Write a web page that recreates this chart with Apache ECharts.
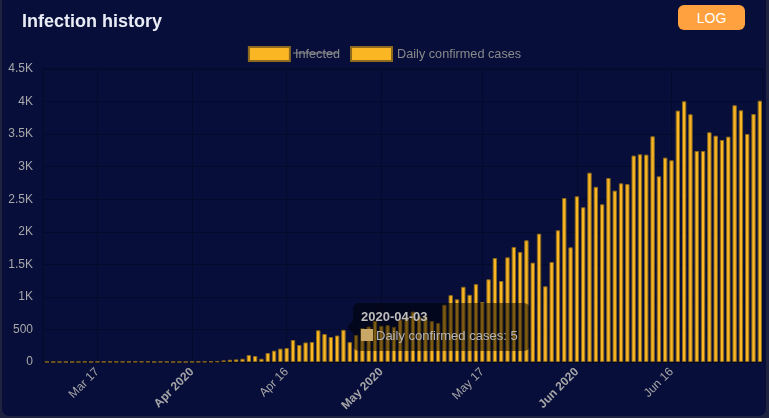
<!DOCTYPE html>
<html>
<head>
<meta charset="utf-8">
<title>Infection history</title>
<script src="https://cdn.jsdelivr.net/npm/echarts@6/dist/echarts.min.js"></script>
<style>
  html, body { margin: 0; padding: 0; width: 769px; height: 418px; overflow: hidden; background: #1e2440; }
  #card { position: absolute; left: 2px; top: -10px; width: 764px; height: 426px; border-radius: 7px; background: #070e3a; }
  #chart { position: absolute; left: 0; top: 0; width: 769px; height: 418px; }
  #logBtn {
    position: absolute; left: 678px; top: 5px; width: 67px; height: 25px; z-index: 5;
    border: 0; border-radius: 6px; padding: 0; background: #ffa13e; color: #fff;
    font: 14px 'Liberation Sans', Arial, sans-serif;
  }
</style>
</head>
<body>
<div id="card"></div>
<div id="chart"></div>
<button id="logBtn">LOG</button>
<script>
// daily confirmed cases (Mar 9 .. Jun 30, 2020)
const marchFirstDay = 9;
const marchCases = [2, 0, 0, 0, 0, 0, 3, 0, 3, 3, 3, 3, 3, 3, 5, 5, 5, 0, 3, 3, 0, 0, 0];
const aprilCases = [2, 3, 5, 6, 10, 25, 35, 40, 50, 107, 92, 50, 138, 174, 205, 215, 338, 261, 300, 307,
    487, 430, 384, 407, 494, 305, 417, 520, 545, 632];
const mayCases = [556, 566, 540, 654, 692, 774, 705, 703, 630, 600, 880, 1027, 963, 1155, 1032, 1196, 920,
    1270, 1597, 1244, 1608, 1766, 1690, 1869, 1526, 1971, 1163, 1536, 2023, 2519, 1761];
const juneCases = [2545, 2376, 2908, 2691, 2422, 2826, 2632, 2744, 2732, 3170, 3190, 3185, 3466, 2852, 3139,
    3098, 3861, 4004, 3805, 3241, 3241, 3528, 3476, 3410, 3461, 3943, 3866, 3502, 3809, 4014];
const seriesNames = ['Infected', 'Daily confirmed cases'];
const xTickDates = ['2020-03-17', '2020-04-01', '2020-04-16', '2020-05-01', '2020-05-17', '2020-06-01', '2020-06-16'];
const xRange = ['2020-03-08T09:00', '2020-06-30T12:00'];
const yTicks = [0, 500, 1000, 1500, 2000, 2500, 3000, 3500, 4000, 4500];
const shownDate = '2020-04-03';

const FONT = "'Liberation Sans', Arial, sans-serif";
const MONTHS = ['Jan', 'Feb', 'Mar', 'Apr', 'May', 'Jun', 'Jul', 'Aug', 'Sep', 'Oct', 'Nov', 'Dec'];
const pad = n => (n < 10 ? '0' : '') + n;
const toTime = s => {
    const p = s.split(/[-T:]/).map(Number);
    return new Date(p[0], p[1] - 1, p[2], p[3] || 0, p[4] || 0).getTime();
};
const fmtDate = t => {
    const d = new Date(t);
    return d.getFullYear() + '-' + pad(d.getMonth() + 1) + '-' + pad(d.getDate());
};

// pair every value with its date
function monthData(month, firstDay, values) {
    return values.map((v, i) => [toTime('2020-' + pad(month) + '-' + pad(firstDay + i)), v]);
}
const dailyData = [].concat(
    monthData(3, marchFirstDay, marchCases),
    monthData(4, 1, aprilCases),
    monthData(5, 1, mayCases),
    monthData(6, 1, juneCases)
);
const shownIndex = dailyData.findIndex(d => d[0] === toTime(shownDate));
const xTicks = xTickDates.map(toTime);

const barStyle = { color: '#fbb624', borderColor: '#8c6a1e', borderWidth: 1 };

const myChart = echarts.init(document.getElementById('chart'));
const option = {
    animation: false,
    textStyle: { fontFamily: FONT },
    title: {
        text: 'Infection history',
        left: 17,
        top: 8,
        textStyle: { color: '#e9ebf5', fontSize: 18, fontWeight: 'bold', fontFamily: FONT }
    },
    legend: {
        data: seriesNames,
        top: 41,
        left: 'center',
        icon: 'rect',
        itemWidth: 41,
        itemHeight: 14,
        itemGap: 10,
        textStyle: { color: '#8a8a8a', fontSize: 12.7 }
    },
    tooltip: {
        trigger: 'item',
        alwaysShowContent: true,
        triggerOn: 'none',
        transitionDuration: 0,
        backgroundColor: 'rgba(0,0,0,0.5)',
        borderWidth: 0,
        padding: [5, 8],
        extraCssText: 'box-shadow:none;border-radius:6px;',
        position: function () {
            return [353, 303];
        },
        formatter: function (p) {
            return '<span style="position:absolute;left:-6px;top:50%;margin-top:-6px;width:0;height:0;' +
                'border-top:6px solid transparent;border-bottom:6px solid transparent;border-right:6px solid rgba(0,0,0,0.5)"></span>' +
                '<div style="font:bold 13px ' + FONT + ';color:#bdbdbd;line-height:18px">' + fmtDate(p.value[0]) + '</div>' +
                '<div style="font:13px ' + FONT + ';color:#b4b4b4;line-height:20px;padding-right:4px">' +
                '<span style="display:inline-block;width:12px;height:12px;margin-right:3px;vertical-align:-1px;background:#c9a867"></span>' +
                p.seriesName + ': ' + p.value[1] + '</div>';
        }
    },
    grid: {
        left: 43,
        right: 6,
        top: 69,
        bottom: 56,
        show: true,
        borderColor: '#040a2b',
        borderWidth: 1
    },
    xAxis: {
        type: 'value',
        min: toTime(xRange[0]),
        max: toTime(xRange[1]),
        axisLine: { lineStyle: { color: '#03071f' } },
        axisTick: { show: false, customValues: xTicks },
        splitLine: { show: true, lineStyle: { color: '#040a2b' } },
        axisLabel: {
            customValues: xTicks,
            color: '#a6a6a6',
            fontSize: 12,
            rotate: 45,
            formatter: function (value) {
                const d = new Date(value);
                if (d.getDate() === 1) {
                    return '{b|' + MONTHS[d.getMonth()] + ' ' + d.getFullYear() + '}';
                }
                return MONTHS[d.getMonth()] + ' ' + d.getDate();
            },
            rich: { b: { fontWeight: 'bold', color: '#a6a6a6', fontSize: 12 } }
        }
    },
    yAxis: {
        type: 'value',
        min: yTicks[0],
        max: yTicks[yTicks.length - 1],
        interval: yTicks[1] - yTicks[0],
        axisLine: { show: false },
        axisTick: { show: false },
        splitLine: { lineStyle: { color: '#040a2b' } },
        axisLabel: {
            color: '#a8a8a8',
            fontSize: 12,
            margin: 10,
            formatter: v => (v >= 1000 ? v / 1000 + 'K' : v)
        }
    },
    graphic: [
        // "Infected" is switched off in the original, shown struck through
        { type: 'line', shape: { x1: 293, y1: 53, x2: 338, y2: 53 }, style: { stroke: '#8a8a8a', lineWidth: 1 } }
    ],
    series: [
        { name: seriesNames[0], type: 'bar', stack: 'cases', data: [], itemStyle: barStyle },
        { name: seriesNames[1], type: 'bar', stack: 'cases', data: dailyData, itemStyle: barStyle }
    ]
};
myChart.setOption(option);
myChart.dispatchAction({ type: 'showTip', seriesIndex: 1, dataIndex: shownIndex });
</script>
</body>
</html>
